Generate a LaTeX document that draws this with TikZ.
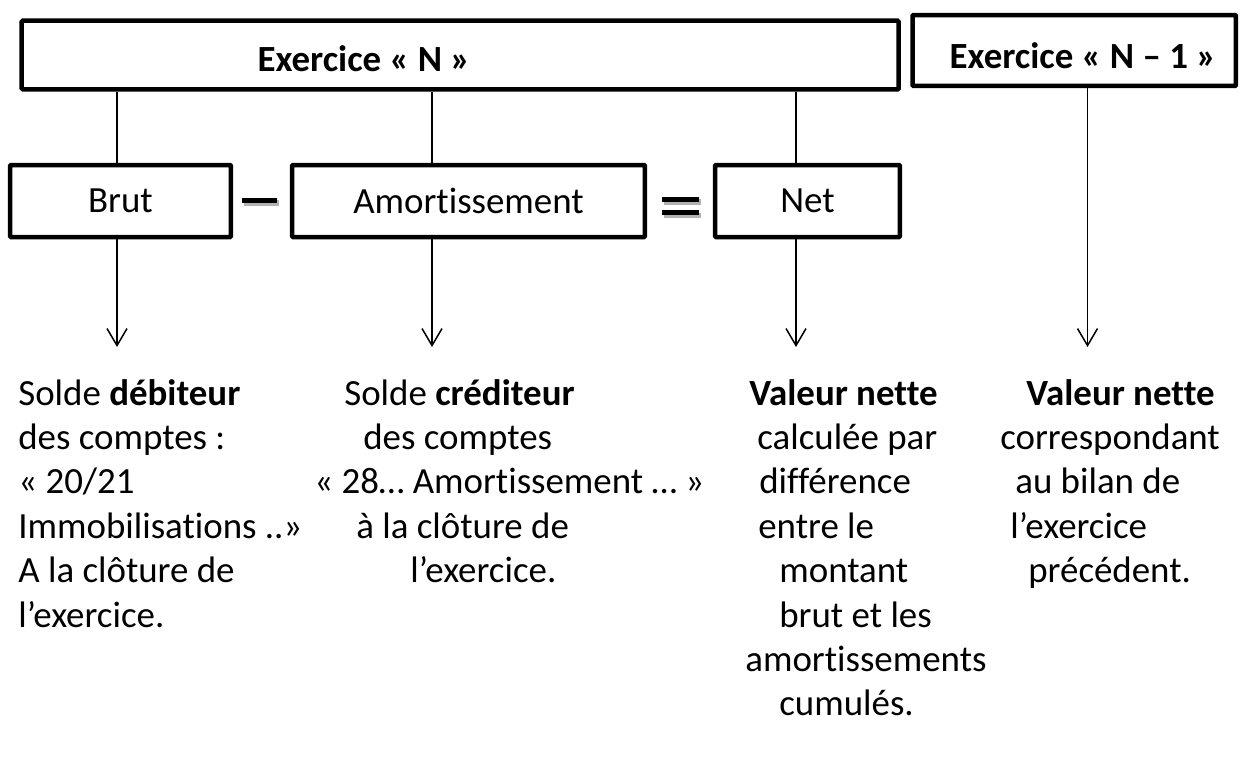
\documentclass[tikz,border=0pt]{standalone}
\usepackage{fontspec}
\setmainfont{Carlito}[Ligatures=CommonOff]
\usetikzlibrary{arrows.meta}
\begin{document}
\begin{tikzpicture}[x=0.02cm,y=-0.02cm,
  box/.style={draw,line width=0.09cm,inner sep=0pt,rounded corners=0.6pt},
  conn/.style={line width=0.03cm},
  arr/.style={conn,-{Straight Barb[length=0.34cm,width=0.4cm,line width=0.03cm]}},
  txt/.style={anchor=base west,inner sep=0pt},
  head/.style={anchor=base,inner sep=0pt,font=\fontsize{21}{25}\selectfont\bfseries},
  shade/.style={fill=black!30},
  font=\fontsize{21}{25}\selectfont]
\useasboundingbox (0,0) rectangle (1240,765);
% header boxes
\node[box,minimum width=17.54cm,minimum height=1.372cm] (bN) at (460.15,55) {};
\node[head] (tN) at (364,71) {Exercice « N »};
\node[box,minimum width=6.47cm,minimum height=1.42cm] (bN1) at (1074.25,50.5) {};
\node[head] (tN1) at (1083,68) {Exercice « N – 1 »};
% middle boxes
\node[box,minimum width=4.42cm,minimum height=1.44cm] (brut) at (120.5,201) {Brut};
\node[box,minimum width=7.06cm,minimum height=1.44cm] (amort) at (468.5,201) {Amortissement};
\node[box,minimum width=3.7cm,minimum height=1.44cm] (net) at (807.5,201) {Net};
% operators
\fill[shade] (243.5,200) rectangle (278.5,205.5);
\fill (242,197.5) rectangle (277,202.5);
\fill[shade] (663.5,199) rectangle (700.5,204.5);
\fill (662,196.5) rectangle (699,201.5);
\fill[shade] (663.5,212.5) rectangle (700.5,218);
\fill (662,210) rectangle (699,215);
% connector columns
\coordinate (x1) at (117,0);
\coordinate (x2) at (432,0);
\coordinate (x3) at (796,0);
\coordinate (x4) at (1087.5,0);
\coordinate (e1) at (117,347);
\coordinate (e2) at (432,347);
\coordinate (e3) at (796,347);
\coordinate (e4) at (1087.5,347);
\draw[conn] (bN.south -| x1) -- (brut.north -| x1);
\draw[conn] (bN.south -| x2) -- (amort.north -| x2);
\draw[conn] (bN.south -| x3) -- (net.north -| x3);
\draw[arr] (brut.south -| x1) -- (e1);
\draw[arr] (amort.south -| x2) -- (e2);
\draw[arr] (net.south -| x3) -- (e3);
\draw[arr] (bN1.south -| x4) -- (e4);
% column 1
\node[txt] (c1a) at (18,405) {Solde \textbf{débiteur}};
\node[txt] (c1b) at (18,449.4) {des comptes :};
\node[txt] (c1c) at (18,493.8) {« 20/21};
\node[txt] (c1d) at (18,538.2) {Immobilisations ..»};
\node[txt] (c1e) at (18,582.6) {A la clôture de};
\node[txt] (c1f) at (18,627) {l’exercice.};
% column 2
\node[txt] (c2a) at (344,405) {Solde \textbf{créditeur}};
\node[txt] (c2b) at (363,449.4) {des comptes};
\node[txt] (c2c) at (314,493.8) {« 28… Amortissement … »};
\node[txt] (c2d) at (356,538.2) {à la clôture de};
\node[txt] (c2e) at (410,582.6) {l’exercice.};
% column 3
\node[txt] (c3a) at (749,405) {\textbf{Valeur nette}};
\node[txt] (c3b) at (757,449.4) {calculée par};
\node[txt] (c3c) at (759,493.8) {différence};
\node[txt] (c3d) at (758,538.2) {entre le};
\node[txt] (c3e) at (779,582.6) {montant};
\node[txt] (c3f) at (779,627) {brut et les};
\node[txt] (c3g) at (745,671.4) {amortissements};
\node[txt] (c3h) at (779,715.8) {cumulés.};
% column 4
\node[txt] (c4a) at (1026,405) {\textbf{Valeur nette}};
\node[txt] (c4b) at (1000,449.4) {correspondant};
\node[txt] (c4c) at (1015,493.8) {au bilan de};
\node[txt] (c4d) at (1010,538.2) {l’exercice};
\node[txt] (c4e) at (1028,582.6) {précédent.};
\end{tikzpicture}
\end{document}
